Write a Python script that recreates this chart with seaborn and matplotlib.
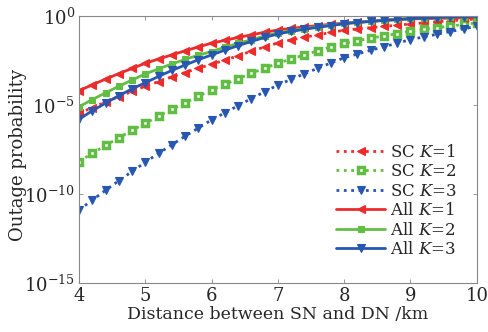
import numpy as np
import pandas as pd
import matplotlib
matplotlib.use("Agg")
import matplotlib.pyplot as plt
import seaborn as sns

# distance between SN and DN (km), one marker every 0.2 km
distance = [4.0, 4.2, 4.4, 4.6, 4.8, 5.0, 5.2, 5.4, 5.6, 5.8,
            6.0, 6.2, 6.4, 6.6, 6.8, 7.0, 7.2, 7.4, 7.6, 7.8,
            8.0, 8.2, 8.4, 8.6, 8.8, 9.0, 9.2, 9.4, 9.6, 9.8, 10.0]

# log10 of outage probability
sc_k1_log = [-5.47, -5.15, -4.84, -4.53, -4.24, -3.95, -3.69, -3.43, -3.18, -2.94,
             -2.72, -2.48, -2.24, -1.98, -1.74, -1.52, -1.35, -1.20, -1.06, -0.93,
             -0.80, -0.73, -0.66, -0.59, -0.52, -0.45, -0.39, -0.33, -0.27, -0.22, -0.17]
sc_k2_log = [-8.18, -7.72, -7.28, -6.85, -6.43, -6.03, -5.63, -5.25, -4.88, -4.51,
             -4.16, -3.84, -3.53, -3.22, -2.94, -2.66, -2.42, -2.19, -1.96, -1.74,
             -1.53, -1.39, -1.25, -1.12, -0.99, -0.86, -0.76, -0.66, -0.57, -0.48, -0.39]
sc_k3_log = [-10.90, -10.35, -9.80, -9.26, -8.74, -8.22, -7.72, -7.24, -6.76, -6.30,
             -5.84, -5.44, -5.04, -4.64, -4.26, -3.88, -3.56, -3.25, -2.94, -2.64,
             -2.35, -2.14, -1.93, -1.73, -1.53, -1.33, -1.18, -1.03, -0.88, -0.73, -0.58]
all_k1_log = [-4.20, -3.87, -3.55, -3.24, -2.95, -2.66, -2.42, -2.19, -1.96, -1.74,
              -1.53, -1.37, -1.21, -1.06, -0.92, -0.79, -0.70, -0.62, -0.54, -0.47,
              -0.40, -0.35, -0.30, -0.25, -0.21, -0.17, -0.15, -0.13, -0.12, -0.11, -0.10]
all_k2_log = [-5.10, -4.70, -4.32, -3.95, -3.60, -3.26, -2.97, -2.70, -2.44, -2.21,
              -2.00, -1.76, -1.54, -1.33, -1.13, -0.94, -0.82, -0.71, -0.61, -0.51,
              -0.42, -0.36, -0.30, -0.24, -0.19, -0.14, -0.11, -0.08, -0.06, -0.04, -0.02]
all_k3_log = [-5.80, -5.33, -4.90, -4.48, -4.10, -3.75, -3.40, -3.06, -2.76, -2.46,
              -2.19, -1.92, -1.67, -1.43, -1.21, -1.01, -0.87, -0.75, -0.64, -0.54,
              -0.44, -0.37, -0.31, -0.25, -0.20, -0.15, -0.12, -0.09, -0.06, -0.04, -0.03]

labels = [r"SC $K$=1", r"SC $K$=2", r"SC $K$=3",
          r"All $K$=1", r"All $K$=2", r"All $K$=3"]
series = [sc_k1_log, sc_k2_log, sc_k3_log, all_k1_log, all_k2_log, all_k3_log]

red, green, blue = "#ee2b2b", "#62bd45", "#2757b0"
# (colour, line style, marker, face colour, marker size, edge width)
styles = [
    (red, ":", "<", red, 5.5, 0.8),
    (green, ":", "s", "white", 4.0, 2.5),
    (blue, ":", "v", blue, 5.5, 0.8),
    (red, "-", "<", red, 5.5, 0.8),
    (green, "-", "s", green, 4.6, 0.8),
    (blue, "-", "v", blue, 5.5, 0.8),
]

sns.set_style("ticks")
plt.rcParams["font.family"] = ["DejaVu Serif"]
plt.rcParams["mathtext.fontset"] = "dejavuserif"

fig, ax = plt.subplots(figsize=(4.88, 3.32), dpi=100)
fig.subplots_adjust(left=0.162, right=0.977, top=0.952, bottom=0.148)

for lab, vals, (col, ls, mk, mfc, ms, mew) in zip(labels, series, styles):
    df = pd.DataFrame({"d": distance, "p": 10.0 ** np.array(vals)})
    sns.lineplot(data=df, x="d", y="p", ax=ax, label=lab,
                 color=col, linestyle=ls, marker=mk,
                 markerfacecolor=mfc, markeredgecolor=col,
                 markersize=ms, markeredgewidth=mew, linewidth=2.0)

ax.set_yscale("log")
ax.set_xlim(4, 10)
ax.set_ylim(1e-15, 1)
ax.set_yticks([1e-15, 1e-10, 1e-5, 1])
ax.set_yticklabels([r"$10^{-15}$", r"$10^{-10}$", r"$10^{-5}$", r"$10^{0}$"])
ax.minorticks_off()
ax.set_xticks(range(4, 11))
ax.tick_params(direction="in", top=True, right=True, length=3, width=0.6,
               color="#888888", labelsize=13, pad=3)
for sp in ax.spines.values():
    sp.set_color("#888888")
    sp.set_linewidth(0.8)

ax.set_xlabel("Distance between SN and DN /km", fontsize=12.5, labelpad=1)
ax.set_ylabel("Outage probability", fontsize=13)
# right edge of the rotated label sits just left of the tick labels
ax.yaxis.set_label_coords(-0.132, 0.48)

leg = ax.legend(loc="lower right", bbox_to_anchor=(0.975, 0.055), frameon=False,
                fontsize=12, handlelength=2.9, handletextpad=0.3,
                labelspacing=0.15, borderaxespad=0.2)

fig.savefig("out.png", dpi=100)
